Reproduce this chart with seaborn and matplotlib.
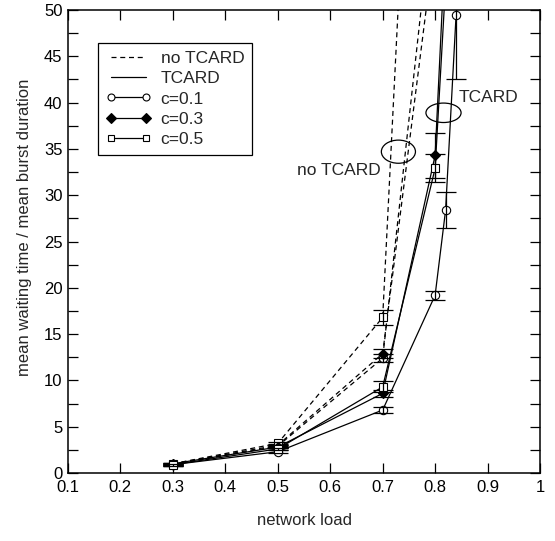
import numpy as np
import pandas as pd
import matplotlib
matplotlib.use("Agg")
import matplotlib.pyplot as plt
from matplotlib.patches import Ellipse
from matplotlib.lines import Line2D
import seaborn as sns

# --- measured waiting times (normalised by mean burst duration) ---
load_no_c01 = [0.3, 0.5, 0.7, 0.8]
wait_no_c01 = [0.9, 2.9, 12.4, 63.8]
err_no_c01 = [0.1, 0.15, 0.4, 0.0]

load_no_c03 = [0.3, 0.5, 0.7, 0.8]
wait_no_c03 = [1.0, 3.0, 12.9, 57.7]
err_no_c03 = [0.1, 0.15, 0.5, 0.0]

load_no_c05 = [0.3, 0.5, 0.7, 0.8]
wait_no_c05 = [1.0, 3.2, 16.8, 130.0]
err_no_c05 = [0.1, 0.2, 0.8, 0.0]

load_tc_c01 = [0.3, 0.5, 0.7, 0.8, 0.82, 0.84]
wait_tc_c01 = [0.9, 2.3, 6.8, 19.2, 28.4, 49.5]
err_tc_c01 = [0.1, 0.15, 0.3, 0.5, 1.9, 6.9]

load_tc_c03 = [0.3, 0.5, 0.7, 0.8, 0.82]
wait_tc_c03 = [1.0, 2.8, 8.6, 34.3, 57.8]
err_tc_c03 = [0.1, 0.15, 0.4, 2.4, 0.0]

load_tc_c05 = [0.3, 0.5, 0.7, 0.8, 0.82]
wait_tc_c05 = [0.9, 2.6, 9.3, 32.9, 52.8]
err_tc_c05 = [0.1, 0.15, 0.6, 1.5, 0.0]

x_ticks = [0.1, 0.2, 0.3, 0.4, 0.5, 0.6, 0.7, 0.8, 0.9, 1]
x_tick_labels = ["0.1", "0.2", "0.3", "0.4", "0.5", "0.6", "0.7", "0.8", "0.9", "1"]
y_ticks = [0, 5, 10, 15, 20, 25, 30, 35, 40, 45, 50]

series = [
    ("no TCARD", "c=0.1", load_no_c01, wait_no_c01, err_no_c01),
    ("no TCARD", "c=0.3", load_no_c03, wait_no_c03, err_no_c03),
    ("no TCARD", "c=0.5", load_no_c05, wait_no_c05, err_no_c05),
    ("TCARD", "c=0.1", load_tc_c01, wait_tc_c01, err_tc_c01),
    ("TCARD", "c=0.3", load_tc_c03, wait_tc_c03, err_tc_c03),
    ("TCARD", "c=0.5", load_tc_c05, wait_tc_c05, err_tc_c05),
]

rows = []
for scheme, c, xs, ys, es in series:
    for x, y, e in zip(xs, ys, es):
        rows.append({"scheme": scheme, "c": c, "load": x, "wait": y, "err": e})
df = pd.DataFrame(rows)

sns.set_theme(style="ticks")
plt.rcParams["font.family"] = ["Liberation Sans", "DejaVu Sans"]

fig = plt.figure(figsize=(5.55, 5.41), dpi=100)
ax = fig.add_axes([0.1225, 0.1257, 0.8505, 0.8558])

line_styles = {"no TCARD": (0, (4, 3)), "TCARD": "-"}
marker_kw = {
    "c=0.1": dict(marker="o", markerfacecolor="white", markersize=6),
    "c=0.3": dict(marker="D", markerfacecolor="black", markersize=5),
    "c=0.5": dict(marker="s", markerfacecolor="white", markersize=5.5),
}

for (scheme, c), sub in df.groupby(["scheme", "c"], sort=False):
    sns.lineplot(data=sub, x="load", y="wait", ax=ax, color="black",
                 linestyle=line_styles[scheme], linewidth=0.9,
                 markeredgecolor="black", markeredgewidth=0.8,
                 estimator=None, sort=False, legend=False, **marker_kw[c])
    bars = sub[sub["err"] > 0]
    ax.errorbar(bars["load"], bars["wait"], yerr=bars["err"], fmt="none",
                ecolor="black", elinewidth=0.9, capsize=7, capthick=0.9)

ax.set_xlim(0.1, 1.0)
ax.set_ylim(0, 50)
ax.set_xticks(x_ticks)
ax.set_xticklabels(x_tick_labels)
ax.set_yticks(y_ticks)
ax.set_yticks(np.arange(2.5, 50, 5), minor=True)
ax.tick_params(axis="both", which="both", direction="in", top=True, right=True,
               length=7, width=0.9, labelsize=12, colors="black", pad=4)
ax.tick_params(axis="x", pad=5)
for s in ax.spines.values():
    s.set_linewidth(1.1)
    s.set_color("black")

ax.set_xlabel("network load", fontsize=12, labelpad=13)
ax.set_ylabel("mean waiting time / mean burst duration", fontsize=12)
ax.yaxis.set_label_coords(-0.077, 0.53)

# annotation ellipses grouping the two families of curves
ax.add_patch(Ellipse((0.730, 34.7), 0.065, 2.5, fill=False, edgecolor="black", linewidth=0.9))
ax.add_patch(Ellipse((0.816, 38.9), 0.067, 2.1, fill=False, edgecolor="black", linewidth=0.9))
ax.text(0.617, 32.7, "no TCARD", fontsize=12.5, ha="center", va="center")
ax.text(0.902, 40.6, "TCARD", fontsize=12.5, ha="center", va="center")

handles = [
    Line2D([], [], color="black", linestyle=(0, (4, 3)), linewidth=0.9),
    Line2D([], [], color="black", linestyle="-", linewidth=0.9),
    Line2D([], [], color="black", linewidth=0.9, marker="o", markerfacecolor="white", markersize=5, markeredgewidth=0.8),
    Line2D([], [], color="black", linewidth=0.9, marker="D", markerfacecolor="black", markersize=5, markeredgewidth=0.8),
    Line2D([], [], color="black", linewidth=0.9, marker="s", markerfacecolor="white", markersize=5, markeredgewidth=0.8),
]
labels = ["no TCARD", "TCARD", "c=0.1", "c=0.3", "c=0.5"]
leg = ax.legend(handles, labels, loc="upper left", bbox_to_anchor=(0.064, 0.929),
                borderaxespad=0, fontsize=12.5, frameon=True, fancybox=False,
                framealpha=1, edgecolor="black", handlelength=2.6,
                handletextpad=0.55, labelspacing=0.3, borderpad=0.45, numpoints=2)
leg.get_frame().set_linewidth(0.9)

fig.savefig("out.png", dpi=100)
